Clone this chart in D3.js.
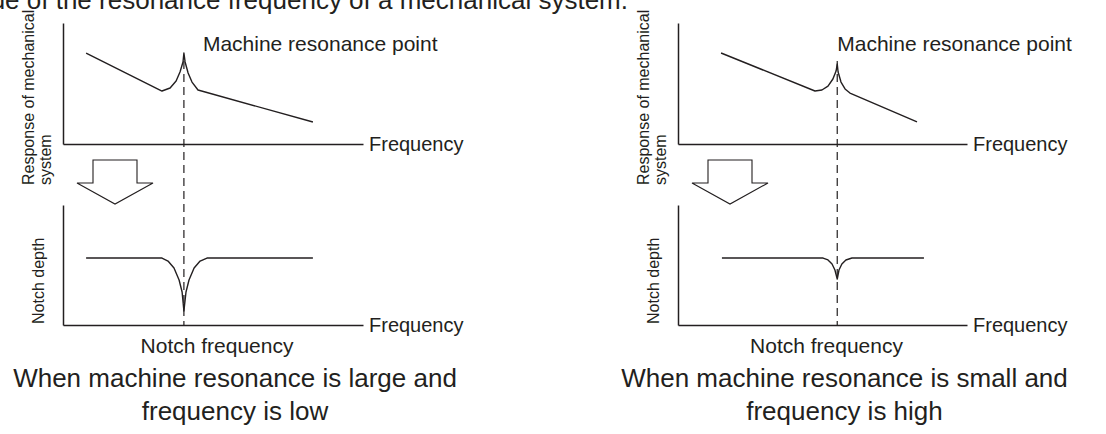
<!DOCTYPE html>
<html>
<head>
<meta charset="utf-8">
<script src="https://cdn.jsdelivr.net/npm/d3@7"></script>
<style>
  body { margin: 0; background: #fff; }
  text { font-family: "Liberation Sans", Arial, sans-serif; fill: #231f20; }
</style>
</head>
<body>
<svg id="chart" width="1106" height="434"></svg>
<script>
// Datos (unidades relativas 0-100 en cada eje)
const titleText = "Set the value of the resonance frequency of a mechanical system.";
const peakLabel = "Machine resonance point";
const xLabel = "Frequency";
const notchLabel = "Notch frequency";
const yLabelTop = ["Response of mechanical", "system"];
const yLabelBottom = "Notch depth";
const captions = [
    ["When machine resonance is large and", "frequency is low"],
    ["When machine resonance is small and", "frequency is high"]
];

// Frecuencia de resonancia de cada caso
const resonanceFreq = [40.3, 55.1];

// Respuesta del sistema mecánico [frecuencia, respuesta]
const responseLarge = [
    [7.7, 75.2], [33, 43.8], [35.7, 46.3], [37.7, 52.1], [39, 59.5], [40, 67.8],
    [40.3, 75.2], [40.7, 67.8], [41.7, 58.7], [43, 51.2], [45, 44.6], [83.3, 18.2]
];
const responseSmall = [
    [14.9, 75.2], [47.4, 43.8], [49.8, 44.6], [51.9, 47.9], [53.6, 53.7], [54.7, 60.3],
    [55.1, 66.1], [55.4, 59.5], [56.4, 51.2], [57.8, 45.5], [59.5, 42.1], [82.7, 18.2]
];

// Profundidad del filtro notch [frecuencia, profundidad]
const notchLarge = [
    [7.7, 55.8], [33, 55.8], [35, 53.3], [37, 47.5], [38.7, 37.5], [39.7, 27.5],
    [40.3, 11.7], [41, 27.5], [42, 37.5], [43.7, 47.5], [45.7, 53.3], [48, 55.8], [83.3, 55.8]
];
const notchSmall = [
    [15.2, 55.8], [50.2, 55.8], [51.9, 54.2], [53.3, 50.8], [54.3, 45.8], [55.1, 38.3],
    [55.7, 45.8], [56.7, 50.8], [58.1, 54.2], [60.2, 55.8], [85.1, 55.8]
];

const responses = [responseLarge, responseSmall];
const notches = [notchLarge, notchSmall];

// Posición de cada panel
const panels = [{ left: 63, right: 363 }, { left: 678, right: 967 }];
const topRange = [144, 23];
const bottomRange = [325, 205];
const ink = "#231f20";

const svg = d3.select("#chart");

svg.append("text")
    .attr("x", 628)
    .attr("y", 9)
    .attr("text-anchor", "end")
    .attr("font-size", 26)
    .text(titleText);

panels.forEach(function (p, i) {
    const g = svg.append("g");
    const x = d3.scaleLinear().domain([0, 100]).range([p.left, p.right]);
    const yTop = d3.scaleLinear().domain([0, 100]).range(topRange);
    const yBot = d3.scaleLinear().domain([0, 100]).range(bottomRange);

    // Ejes sin marcas
    [[yTop, topRange[0]], [yBot, bottomRange[0]]].forEach(function (pair) {
        const y = pair[0];
        g.append("g")
            .attr("transform", "translate(0," + pair[1] + ")")
            .call(d3.axisBottom(x).ticks(0).tickSizeOuter(0));
        g.append("g")
            .attr("transform", "translate(" + p.left + ",0)")
            .call(d3.axisLeft(y).ticks(0).tickSizeOuter(0));
    });
    g.selectAll(".domain").attr("stroke", ink).attr("stroke-width", 1.5);

    // Línea punteada de la frecuencia de resonancia
    const peak = d3.max(responses[i], d => d[1]);
    g.append("line")
        .attr("x1", x(resonanceFreq[i]))
        .attr("x2", x(resonanceFreq[i]))
        .attr("y1", yTop(peak) + 8)
        .attr("y2", yBot(0))
        .attr("stroke", ink)
        .attr("stroke-width", 1.2)
        .attr("stroke-dasharray", "8,5");

    const lineTop = d3.line().x(d => x(d[0])).y(d => yTop(d[1]));
    const lineBot = d3.line().x(d => x(d[0])).y(d => yBot(d[1]));

    g.append("path")
        .attr("d", lineTop(responses[i]))
        .attr("fill", "none")
        .attr("stroke", ink)
        .attr("stroke-width", 1.4)
        .attr("stroke-linejoin", "round");

    g.append("path")
        .attr("d", lineBot(notches[i]))
        .attr("fill", "none")
        .attr("stroke", ink)
        .attr("stroke-width", 1.4)
        .attr("stroke-linejoin", "round");

    // Flecha hueca entre los dos gráficos
    const ax = p.left + 52;
    const arrow = [[-22, 160], [22, 160], [22, 183], [38, 183], [0, 204], [-38, 183], [-22, 183]];
    g.append("polygon")
        .attr("points", arrow.map(a => [ax + a[0], a[1]].join(",")).join(" "))
        .attr("fill", "#fff")
        .attr("stroke", ink)
        .attr("stroke-width", 1.1);

    // Textos
    g.append("text")
        .attr("x", x(resonanceFreq[i]) + (i ? 0 : 19))
        .attr("y", 51)
        .attr("font-size", 21)
        .text(peakLabel);

    [topRange[0], bottomRange[0]].forEach(function (yy) {
        g.append("text")
            .attr("x", p.right + 6)
            .attr("y", yy + 7)
            .attr("font-size", 20)
            .text(xLabel);
    });

    g.append("text")
        .attr("x", (p.left + p.right) / 2 + 4)
        .attr("y", 353)
        .attr("text-anchor", "middle")
        .attr("font-size", 21)
        .text(notchLabel);

    yLabelTop.forEach(function (t, k) {
        g.append("text")
            .attr("transform", "translate(" + (p.left - 29 + k * 17) + ",185) rotate(-90)")
            .attr("font-size", 16)
            .text(t);
    });

    g.append("text")
        .attr("transform", "translate(" + (p.left - 19) + ",324) rotate(-90)")
        .attr("font-size", 16)
        .text(yLabelBottom);

    captions[i].forEach(function (t, k) {
        g.append("text")
            .attr("x", (p.left + p.right) / 2 + 22)
            .attr("y", 387 + k * 33)
            .attr("text-anchor", "middle")
            .attr("font-size", 26)
            .text(t);
    });
});
</script>
</body>
</html>
